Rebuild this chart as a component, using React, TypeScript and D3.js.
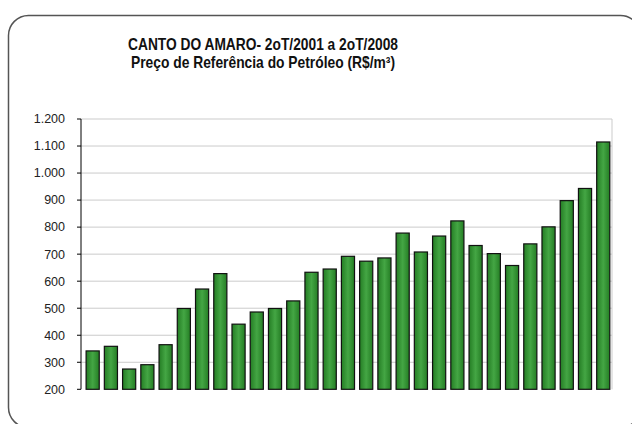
import React from "react"
import * as d3 from "d3"

const W = 632
const H = 424

const TITLE_LINES = [
  "CANTO DO AMARO- 2oT/2001 a 2oT/2008",
  "Preço de Referência do Petróleo (R$/m³)",
]

// 2T/2001 .. 2T/2008, one bar per quarter
const QUARTERS = [
  "2T01", "3T01", "4T01",
  "1T02", "2T02", "3T02", "4T02",
  "1T03", "2T03", "3T03", "4T03",
  "1T04", "2T04", "3T04", "4T04",
  "1T05", "2T05", "3T05", "4T05",
  "1T06", "2T06", "3T06", "4T06",
  "1T07", "2T07", "3T07", "4T07",
  "1T08", "2T08",
]

const PRICES = [
  342, 359, 275, 291, 365, 499, 571, 628, 441, 486, 499, 527, 633,
  645, 692, 674, 686, 778, 708, 767, 823, 732, 702, 658, 738, 801, 898, 943, 1115,
]

const Y_TICKS = [200, 300, 400, 500, 600, 700, 800, 900, 1000, 1100, 1200]

const PLOT = { left: 81, right: 612, top: 119, bottom: 389.3 }

const fmt = (v: number) => d3.format(",")(v).replace(/,/g, ".")

export default function App() {
  const x = d3
    .scaleBand<string>()
    .domain(QUARTERS)
    .range([PLOT.left, PLOT.right])
    .paddingInner(0.28)
    .paddingOuter(0.2)
    .align(0.7)

  const y = d3
    .scaleLinear()
    .domain([200, 1200])
    .range([PLOT.bottom, PLOT.top])

  return (
    <svg
      width={W}
      height={H}
      style={{ position: "absolute", left: 0, top: 0, background: "#fff" }}
      fontFamily="'Liberation Sans', Arial, sans-serif"
    >
      <defs>
        <linearGradient id="barFill" x1="0" x2="1" y1="0" y2="0">
          <stop offset="0" stopColor="#247d24" />
          <stop offset="0.5" stopColor="#44a644" />
          <stop offset="1" stopColor="#247d24" />
        </linearGradient>
      </defs>

      <rect x={8.5} y={15.5} width={632} height={412} rx={20} fill="#fff" stroke="#555" strokeWidth={1.5} />

      {TITLE_LINES.map((t, i) => (
        <text
          key={i}
          x={263}
          y={50 + i * 17.5}
          textAnchor="middle"
          fontSize={16.5}
          fontWeight="bold"
          fill="#111"
          textLength={i === 0 ? 270 : 264}
          lengthAdjust="spacingAndGlyphs"
        >
          {t}
        </text>
      ))}

      {/* gridlines */}
      {Y_TICKS.filter(t => t > 200).map(t => (
        <line
          key={t}
          x1={PLOT.left}
          x2={PLOT.right}
          y1={y(t)}
          y2={y(t)}
          stroke="#cbcbcb"
          strokeWidth={1}
        />
      ))}
      <line x1={PLOT.right} x2={PLOT.right} y1={PLOT.top} y2={PLOT.bottom} stroke="#cbcbcb" strokeWidth={1} />

      {/* bars */}
      {QUARTERS.map((q, i) => (
        <rect
          key={q}
          x={x(q)}
          y={y(PRICES[i])}
          width={x.bandwidth()}
          height={y(200) - y(PRICES[i])}
          fill="url(#barFill)"
          stroke="#111"
          strokeWidth={1.2}
        />
      ))}

      {/* y axis */}
      <line x1={PLOT.left} x2={PLOT.left} y1={PLOT.top} y2={PLOT.bottom} stroke="#000" strokeWidth={1} />
      {Y_TICKS.map(t => (
        <g key={t} transform={`translate(0,${y(t)})`}>
          <line x1={PLOT.left - 4} x2={PLOT.left} stroke="#000" strokeWidth={1} />
          <text x={65} dy="0.35em" textAnchor="end" fontSize={12.5} fill="#222">
            {fmt(t)}
          </text>
        </g>
      ))}
    </svg>
  )
}
